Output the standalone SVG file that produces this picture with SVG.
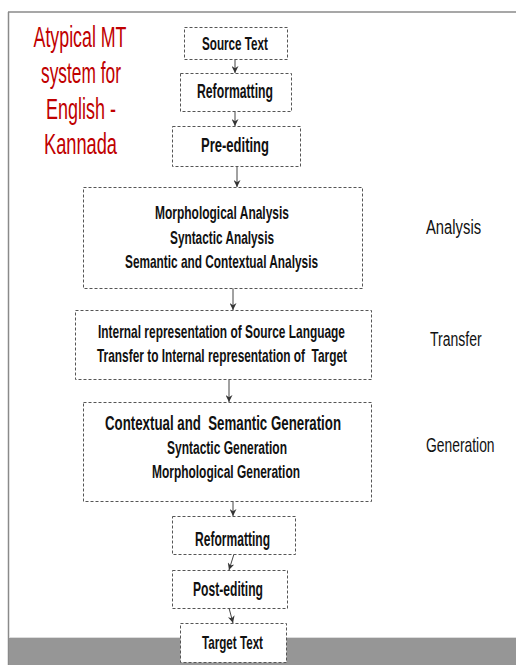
<svg xmlns="http://www.w3.org/2000/svg" width="516" height="665" viewBox="0 0 516 665">
<style>
.box{fill:#fff;stroke:#555;stroke-width:1;stroke-dasharray:3 2}
.t{font-family:"Liberation Sans Narrow","Liberation Sans",Arial,sans-serif;font-weight:bold;fill:#111;text-anchor:middle}
.lbl{font-family:"Liberation Sans Narrow","Liberation Sans",Arial,sans-serif;fill:#111;font-size:21px}
.title{font-family:"Liberation Sans Narrow","Liberation Sans",Arial,sans-serif;fill:#c00000;font-size:29px;text-anchor:middle}
.c{stroke:#444;stroke-width:1;fill:none;marker-end:url(#ah)}
</style>
<defs>
<marker id="ah" viewBox="0 0 8 8" refX="8" refY="4" markerWidth="8" markerHeight="7" orient="auto" markerUnits="userSpaceOnUse">
<path d="M0,0 L8,4 L0,8 L2.5,4 Z" fill="#333"/>
</marker>
</defs>
<rect width="516" height="665" fill="#fff"/>
<g id="frame">
<line x1="8" y1="12" x2="516" y2="12" stroke="#8a8a8a" stroke-width="1.5"/>
<line x1="8.5" y1="12" x2="8.5" y2="665" stroke="#8a8a8a" stroke-width="1.5"/>
<rect x="9" y="638" width="507" height="27" fill="#969696"/>
<line x1="9" y1="637.5" x2="516" y2="637.5" stroke="#dcdcdc" stroke-width="1"/>
</g>
<g id="title">
<text class="title" x="80" y="47" textLength="93" lengthAdjust="spacingAndGlyphs">Atypical MT</text>
<text class="title" x="81" y="83" textLength="80" lengthAdjust="spacingAndGlyphs">system for</text>
<text class="title" x="81" y="119" textLength="70" lengthAdjust="spacingAndGlyphs">English -</text>
<text class="title" x="80.5" y="154" textLength="73" lengthAdjust="spacingAndGlyphs">Kannada</text>
</g>
<g id="connectors">
<path class="c" d="M235,59 L235,73"/>
<path class="c" d="M235,111 L235,126"/>
<path class="c" d="M237,166 L237,187"/>
<path class="c" d="M233,288 L233,310"/>
<path class="c" d="M229,379 L229,402"/>
<path class="c" d="M233,501 L233,516"/>
<path class="c" d="M234,554 L229,570"/>
<path class="c" d="M229,608 L233,623"/>
</g>
<g id="source">
<rect class="box" x="184.5" y="27.5" width="103" height="32"/>
<text class="t" x="235" y="50" font-size="19" textLength="66" lengthAdjust="spacingAndGlyphs">Source Text</text>
</g>
<g id="reformat1">
<rect class="box" x="180.5" y="73.5" width="111" height="38"/>
<text class="t" x="235" y="98" font-size="19.5" textLength="76" lengthAdjust="spacingAndGlyphs">Reformatting</text>
</g>
<g id="preedit">
<rect class="box" x="172.5" y="126.5" width="128" height="40"/>
<text class="t" x="235" y="152" font-size="20.5" textLength="68" lengthAdjust="spacingAndGlyphs">Pre-editing</text>
</g>
<g id="analysis">
<rect class="box" x="83.5" y="187.5" width="279" height="101"/>
<text class="t" x="222" y="219" font-size="17.5" textLength="134" lengthAdjust="spacingAndGlyphs">Morphological Analysis</text>
<text class="t" x="222" y="244" font-size="17.5" textLength="104" lengthAdjust="spacingAndGlyphs">Syntactic Analysis</text>
<text class="t" transform="translate(221.5,268) scale(1,1.35)" font-size="13" textLength="193" lengthAdjust="spacingAndGlyphs">Semantic and Contextual Analysis</text>
</g>
<g id="transfer">
<rect class="box" x="75.5" y="310.5" width="296" height="69"/>
<text class="t" transform="translate(221.5,338) scale(1,1.35)" font-size="13" textLength="247" lengthAdjust="spacingAndGlyphs">Internal representation of Source Language</text>
<text class="t" transform="translate(222,362) scale(1,1.35)" font-size="13" textLength="250" lengthAdjust="spacingAndGlyphs" xml:space="preserve">Transfer to Internal representation of  Target</text>
</g>
<g id="generation">
<rect class="box" x="83.5" y="402.5" width="288" height="99"/>
<text class="t" transform="translate(223,430) scale(1,1.4)" font-size="14.3" textLength="236" lengthAdjust="spacingAndGlyphs" xml:space="preserve">Contextual and  Semantic Generation</text>
<text class="t" x="227" y="454" font-size="18" textLength="120" lengthAdjust="spacingAndGlyphs">Syntactic Generation</text>
<text class="t" x="226" y="478" font-size="18" textLength="148" lengthAdjust="spacingAndGlyphs">Morphological Generation</text>
</g>
<g id="reformat2">
<rect class="box" x="172.5" y="516.5" width="123" height="38"/>
<text class="t" x="232.5" y="546" font-size="19.5" textLength="75" lengthAdjust="spacingAndGlyphs">Reformatting</text>
</g>
<g id="postedit">
<rect class="box" x="172.5" y="570.5" width="115" height="38"/>
<text class="t" x="228" y="596" font-size="19.5" textLength="70" lengthAdjust="spacingAndGlyphs">Post-editing</text>
</g>
<g id="target">
<rect class="box" x="180.5" y="623.5" width="106" height="39"/>
<text class="t" x="232.5" y="649" font-size="19" textLength="61" lengthAdjust="spacingAndGlyphs">Target Text</text>
</g>
<g id="labels">
<text class="lbl" transform="translate(426,234) scale(0.705,1)">Analysis</text>
<text class="lbl" transform="translate(430,346) scale(0.668,1)">Transfer</text>
<text class="lbl" transform="translate(426,452) scale(0.66,1)">Generation</text>
</g>
</svg>
